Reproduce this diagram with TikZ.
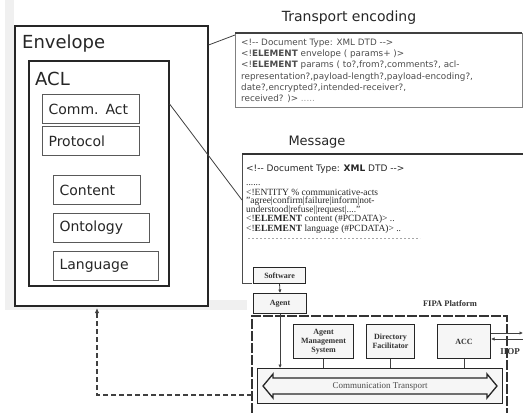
\documentclass[tikz,border=0pt]{standalone}
\usepackage{fontspec}
\setmainfont{Liberation Serif}
\newfontfamily\dv{DejaVu Sans}
\usetikzlibrary{arrows.meta,calc}
\tikzset{
  envbox/.style={draw=black!85, line width=1.6pt, anchor=north west, inner sep=0pt},
  biglabel/.style={anchor=west, inner sep=0pt, font=\dv\fontsize{18}{20}\selectfont, text=black!85},
  ibox/.style={draw=black!65, line width=1.1pt, anchor=north west, inner xsep=6pt, inner ysep=0pt,
     align=left, minimum height=29pt, font=\dv\fontsize{14}{16}\selectfont, text=black!85},
  title/.style={inner sep=0pt, font=\dv\fontsize{14}{16}\selectfont, text=black!85},
  trline/.style={anchor=base west, inner sep=0pt, font=\dv\fontsize{8.8}{10}\selectfont, text=black!70},
  msline/.style={anchor=base west, inner sep=0pt, font=\fontsize{9.5}{9.5}\selectfont, text=black!85},
  fipabox/.style={draw=black!85, line width=1.1pt, fill=gray!7, anchor=north west, inner sep=1pt,
     align=center, font=\bfseries\fontsize{8}{9}\selectfont, text=black!80},
  conn/.style={draw=black!75, line width=0.8pt},
  platdash/.style={draw=black!80, line width=1.3pt, dash pattern=on 10pt off 2pt},
  smallarrow/.style={-{Latex[length=3.5pt,width=3.5pt]}}
}
\begin{document}
\begin{tikzpicture}[x=1pt,y=-1pt]
\useasboundingbox (0,0) rectangle (523,413);
% gray background strips
\fill[gray!12] (5,0) rectangle (14,310);
\fill[gray!12] (5,300) rectangle (247,310);
% Envelope / ACL
\node[envbox, fill=white, minimum width=193pt, minimum height=280pt] (env) at (14,25) {};
\node[biglabel] (envlabel) at (22,44) {Envelope};
\node[envbox, minimum width=140pt, minimum height=225pt] (acl) at (28,60) {};
\node[biglabel] (acllabel) at (35,79) {ACL};
\node[ibox, text width=85pt] (comm) at (42,94) {Comm. Act};
\node[ibox, text width=85pt] (proto) at (42,126) {Protocol};
\node[ibox, text width=75pt] (content) at (53,175) {Content};
\node[ibox, text width=84pt] (onto) at (53,213) {Ontology};
\node[ibox, text width=93pt] (lang) at (53,251) {Language};
% Transport encoding
\node[title] (trtitle) at (349,18) {Transport encoding};
\node[anchor=north west, inner sep=0pt, minimum width=287pt, minimum height=74pt] (trbox) at (235,33) {};
\draw[black!50, line width=1pt] (trbox.north east) |- (trbox.south west) -- (trbox.north west);
\draw[black!75, line width=1.5pt] (trbox.north west) -- (trbox.north east);
\node[trline] (t1) at (241,45) {<!-{}- Document Type: XML DTD -{}->};
\node[trline] (t2) at (241,56) {<!\textbf{ELEMENT} envelope ( params+ )>};
\node[trline] (t3) at (241,67.5) {<!\textbf{ELEMENT} params ( to?,from?,comments?, acl-};
\node[trline] (t4) at (241,79) {representation?,payload-length?,payload-encoding?,};
\node[trline] (t5) at (241,90) {date?,encrypted?,intended-receiver?,};
\node[trline] (t6) at (241,101) {received? )> \textcolor{black!40}{.....}};
% Message
\node[title, font=\dv\fontsize{13}{15}\selectfont] (msgtitle) at (317,142) {Message};
\node[anchor=north west, inner sep=0pt, minimum width=285pt, minimum height=129pt] (msgbox) at (242,154) {};
\draw[black!70, line width=1pt] (msgbox.north west) -- (msgbox.south west) -- ++(10,0);
\draw[black!80, line width=1.6pt] (msgbox.north west) -- (msgbox.north east);
\node[msline, font=\dv\fontsize{9}{9}\selectfont] (m1) at (246,171) {<!-{}- Document Type: \textbf{XML} DTD -{}->};
\node[msline] (m2) at (246,185) {......};
\node[msline] (m3) at (246,195) {<!ENTITY \% communicative-acts};
\node[msline] (m4) at (246,203.5) {"agree|confirm|failure|inform|not-};
\node[msline] (m5) at (246,212.5) {understood|refuse||request|....''};
\node[msline] (m6) at (246,221.5) {<!\textbf{ELEMENT} content (\#PCDATA)> ..};
\node[msline] (m7) at (246,231) {<!\textbf{ELEMENT} language (\#PCDATA)> ..};
\draw[black!35, line width=0.8pt, dash pattern=on 2pt off 2pt] (248,238.5) -- (420,238.5);
% connectors from envelope
\draw[conn] ([yshift=-20pt]env.north east) -- ([yshift=-2pt]trbox.north west);
\draw[conn] ([yshift=-44pt]acl.north east) -- ([yshift=-46pt]msgbox.north west);
% FIPA platform
\node[fipabox, minimum width=52pt, minimum height=16pt] (soft) at (253,267) {Software};
\node[fipabox, minimum width=53pt, minimum height=20pt] (agent) at (253,293) {Agent};
\node[inner sep=0pt, font=\bfseries\fontsize{8.5}{10}\selectfont, text=black!80] (fipa) at (450,304) {FIPA Platform};
\coordinate (pl1) at (252,413);
\coordinate (pl2) at (252,316);
\coordinate (pl3) at (507,316);
\coordinate (pl4) at (507,413);
\draw[platdash] (pl1) -- (pl2) -- (pl3) -- (pl4);
\node[fipabox, minimum width=60pt, minimum height=34pt] (ams) at (293,324) {Agent\\Management\\System};
\node[fipabox, minimum width=48pt, minimum height=34pt] (df) at (366,324) {Directory\\Facilitator};
\node[fipabox, minimum width=53pt, minimum height=34pt] (acc) at (437,324) {ACC};
\node[fipabox, minimum width=245pt, minimum height=35pt, font=\fontsize{9}{10}\selectfont, text=black!70] (ct) at (257,368) {Communication Transport};
\draw[black!85, line width=1.3pt] (263,386) -- (273,374) -- (273,378) -- (487,378) -- (487,374)
   -- (497,386) -- (487,398) -- (487,394) -- (273,394) -- (273,398) -- cycle;
\node[inner sep=0pt, font=\bfseries\fontsize{9}{10}\selectfont, text=black!80] (iiop) at (510,352) {IIOP};
\coordinate (iiopout) at (523,333);
\coordinate (iiopin) at (523,339);
\draw[conn, line width=1pt, smallarrow] ([yshift=-9pt]acc.north east) -- (iiopout);
\draw[conn, line width=1pt, smallarrow] (iiopin) -- ([yshift=-15pt]acc.north east);
\draw[conn, smallarrow] (soft.south) -- (agent.north);
\draw[conn, smallarrow] (agent.south) -- (agent.south |- ct.north);
\draw[conn] (ams.south) -- (ams.south |- ct.north);
\draw[conn] (df.south) -- (df.south |- ct.north);
\draw[conn] (acc.south) -- (acc.south |- ct.north);
% dashed return arrow
\coordinate (dstart) at (252,395);
\coordinate (envhook) at (97,308);
\draw[black!75, line width=1.6pt, dash pattern=on 5pt off 3pt, -{Latex[length=5pt,width=4.5pt]}] (dstart) -| (envhook);
\end{tikzpicture}
\end{document}
